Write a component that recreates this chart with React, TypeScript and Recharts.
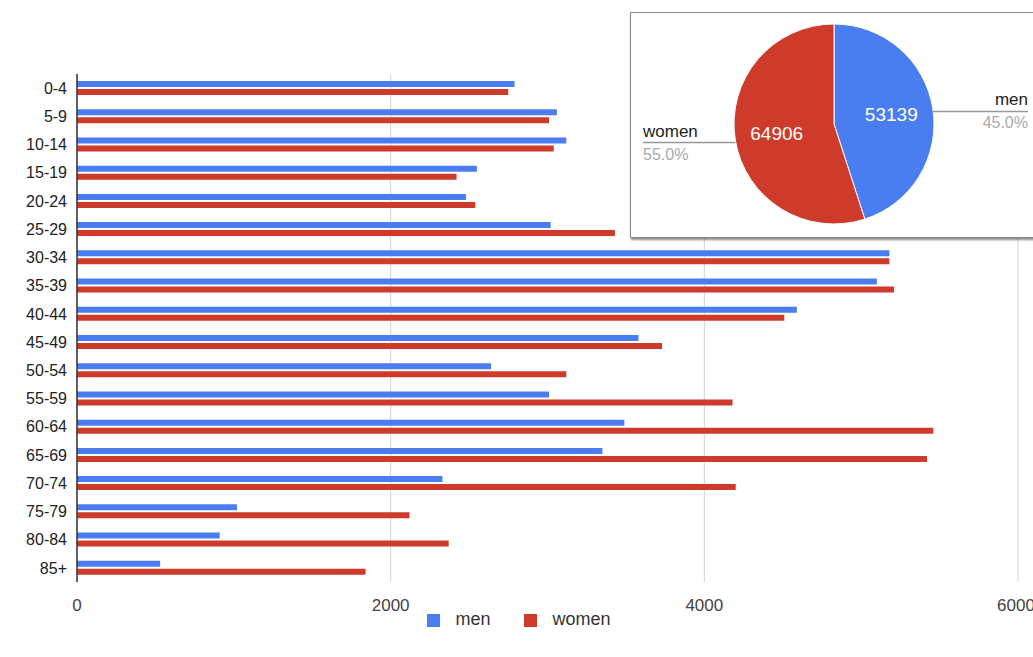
import { BarChart, Bar, XAxis, YAxis, CartesianGrid, Legend, PieChart, Pie, Cell } from "recharts";

const AGE_GROUPS = ["0-4", "5-9", "10-14", "15-19", "20-24", "25-29", "30-34", "35-39", "40-44", "45-49", "50-54", "55-59", "60-64", "65-69", "70-74", "75-79", "80-84", "85+"];
const MEN = [2790, 3060, 3120, 2550, 2480, 3020, 5180, 5100, 4590, 3580, 2640, 3010, 3490, 3350, 2330, 1020, 910, 530];
const WOMEN = [2750, 3010, 3040, 2420, 2540, 3430, 5180, 5210, 4510, 3730, 3120, 4180, 5460, 5420, 4200, 2120, 2370, 1840];
const X_TICKS = [0, 2000, 4000, 6000];

const PIE_NAMES = ["men", "women"];
const PIE_TOTALS = [53139, 64906];

const BLUE = "#4a7ef0";
const RED = "#cf3b2b";
const COLORS = [BLUE, RED];
const FONT = "'Liberation Sans', Arial, sans-serif";

const barData = AGE_GROUPS.map((age, i) => ({ age, men: MEN[i], women: WOMEN[i] }));
const pieData = PIE_NAMES.map((name, i) => ({ name, value: PIE_TOTALS[i] }));

const PIE_W = 410;
const RAD = Math.PI / 180;

function renderPieLabel(props: any) {
  const { cx, cy, midAngle, outerRadius, value, percent, name } = props;
  const cos = Math.cos(-midAngle * RAD);
  const sin = Math.sin(-midAngle * RAD);
  const ix = cx + outerRadius * 0.58 * cos;
  const iy = cy + outerRadius * 0.58 * sin;
  const ex = cx + outerRadius * cos;
  const ey = cy + outerRadius * sin + 3;
  const right = cos >= 0;
  const endX = right ? PIE_W - 13 : 12;
  return (
    <g style={{ fontFamily: FONT }}>
      <text x={ix} y={iy} fill="#fff" fontSize={19} textAnchor="middle" dominantBaseline="central">
        {value}
      </text>
      <line x1={ex} y1={ey} x2={endX} y2={ey} stroke="#999" strokeWidth={1.5} />
      <text x={endX} y={ey - 6} fill="#222" fontSize={17} textAnchor={right ? "end" : "start"}>
        {name}
      </text>
      <text x={endX} y={ey + 17} fill="#aaa" fontSize={16} textAnchor={right ? "end" : "start"}>
        {(percent * 100).toFixed(1)}%
      </text>
    </g>
  );
}

export default function App() {
  return (
    <div
      style={{
        position: "absolute",
        left: 0,
        top: 0,
        width: 1033,
        height: 657,
        overflow: "hidden",
        background: "#fff",
        fontFamily: FONT,
      }}
    >
      <BarChart
        width={1033}
        height={657}
        data={barData}
        layout="vertical"
        margin={{ top: 74, right: 15, bottom: 27, left: 0 }}
        barSize={6}
        barGap={2}
      >
        <CartesianGrid horizontal={false} stroke="#d4d4d4" />
        <XAxis
          type="number"
          domain={[0, 6000]}
          ticks={X_TICKS}
          axisLine={false}
          tickLine={false}
          tickMargin={11}
          height={27}
          tick={{ fill: "#444", fontSize: 17 }}
        />
        <YAxis
          type="category"
          dataKey="age"
          width={77}
          tickLine={false}
          tickMargin={4}
          axisLine={{ stroke: "#333", strokeWidth: 1.5 }}
          tick={{ fill: "#222", fontSize: 16 }}
          interval={0}
        />
        <Legend
          verticalAlign="bottom"
          iconType="square"
          iconSize={13}
          wrapperStyle={{ fontSize: 18, paddingLeft: 15 }}
          formatter={(v: string, _e: any, i: number) => (
            <span style={{ color: "#333", marginLeft: 11, marginRight: i === 0 ? 24 : 0 }}>{v}</span>
          )}
        />
        <Bar dataKey="men" name="men" fill={BLUE} isAnimationActive={false} />
        <Bar dataKey="women" name="women" fill={RED} isAnimationActive={false} />
      </BarChart>

      <div
        style={{
          position: "absolute",
          left: 630,
          top: 12,
          width: PIE_W,
          height: 224,
          background: "#fff",
          border: "1px solid #888",
          boxShadow: "1px 2px 2px rgba(0,0,0,0.45)",
        }}
      >
        <PieChart width={PIE_W} height={224} margin={{ top: 0, right: 0, bottom: 0, left: 0 }}>
          <Pie
            data={pieData}
            dataKey="value"
            nameKey="name"
            cx={203}
            cy={111}
            outerRadius={100}
            startAngle={90}
            endAngle={-270}
            stroke="#fff"
            strokeWidth={1}
            label={renderPieLabel}
            labelLine={false}
            isAnimationActive={false}
          >
            {pieData.map((_, i) => (
              <Cell key={`cell-${i}`} fill={COLORS[i]} />
            ))}
          </Pie>
        </PieChart>
      </div>
    </div>
  );
}
